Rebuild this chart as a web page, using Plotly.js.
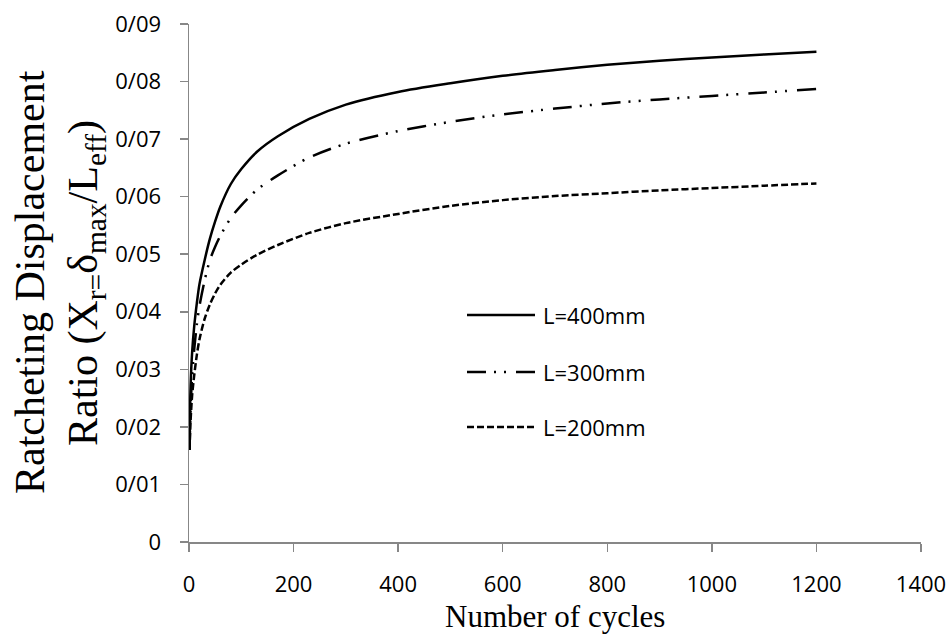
<!DOCTYPE html>
<html>
<head>
<meta charset="utf-8">
<script src="https://cdn.plot.ly/plotly-3.0.1.min.js"></script>
<style>html,body{margin:0;padding:0;background:#fff;}#chart{width:950px;height:635px;}</style>
</head>
<body>
<div id="chart"></div>
<script>
// ---- data ----
const cycles = [1, 3, 6, 10, 15, 20, 30, 40, 50, 60, 80, 100, 130, 170, 230, 300, 400, 500, 600, 700, 800, 900, 1000, 1100, 1200];
const ratioL400 = [0.016, 0.027, 0.033, 0.0375, 0.0415, 0.0448, 0.049, 0.0527, 0.0557, 0.0583, 0.0622, 0.0648, 0.0678, 0.0705, 0.0735, 0.0760, 0.0782, 0.0797, 0.0810, 0.0820, 0.0829, 0.0836, 0.0842, 0.0847, 0.0852];
const ratioL300 = [0.016, 0.023, 0.029, 0.0335, 0.0378, 0.041, 0.0455, 0.049, 0.0513, 0.0532, 0.0563, 0.0585, 0.0612, 0.0637, 0.0668, 0.0692, 0.0714, 0.0730, 0.0743, 0.0753, 0.0762, 0.0769, 0.0775, 0.0781, 0.0787];
const ratioL200 = [0.016, 0.021, 0.0255, 0.0290, 0.0325, 0.0352, 0.0388, 0.0413, 0.0432, 0.0447, 0.0468, 0.0482, 0.0499, 0.0516, 0.0537, 0.0554, 0.0570, 0.0584, 0.0594, 0.0601, 0.0606, 0.0611, 0.0615, 0.0619, 0.0623];
const seriesNames = ['L=400mm', 'L=300mm', 'L=200mm'];
const xTickVals = [0, 200, 400, 600, 800, 1000, 1200, 1400];
const yTickVals = [0, 0.01, 0.02, 0.03, 0.04, 0.05, 0.06, 0.07, 0.08, 0.09];
const yTickText = ['0', '0/01', '0/02', '0/03', '0/04', '0/05', '0/06', '0/07', '0/08', '0/09'];
const xTitle = 'Number of cycles';
const yTitleLine1 = 'Ratcheting Displacement';
const yTitleLine2 = 'Ratio (X<sub>r=</sub>δ<sub>max</sub>/L<sub>eff</sub>)';

// ---- styling ----
const dashes = ['solid', '19px,8px,2px,8px,2px,10px', '7px,3px'];
const seriesY = [ratioL400, ratioL300, ratioL200];

// plot area in pixels
const W = 950, H = 635;
const M = {l: 189, r: 29, t: 24, b: 93};
const PW = W - M.l - M.r, PH = H - M.t - M.b;
const px2x = px => (px - M.l) / PW;
const py2y = py => (H - M.b - py) / PH;

const traces = seriesY.map((ys, i) => ({
  x: cycles, y: ys, type: 'scatter', mode: 'lines', name: seriesNames[i],
  line: {color: '#000', width: 2.5, dash: dashes[i], shape: 'spline', smoothing: 0.8},
  hoverinfo: 'x+y+name', showlegend: false
}));

const tickFont = {family: '"Open Sans", "Liberation Sans", sans-serif', size: 22, color: '#000'};
const serif = '"Liberation Serif", "Times New Roman", serif';

// manual legend (long sample lines as in the reference)
const legendRowsPy = [315, 372, 427];
const shapes = [];
const annotations = [];
seriesNames.forEach((n, i) => {
  shapes.push({type: 'line', xref: 'paper', yref: 'paper',
    x0: px2x(467), x1: px2x(535), y0: py2y(legendRowsPy[i]), y1: py2y(legendRowsPy[i]),
    line: {color: '#000', width: 2.5, dash: dashes[i]}});
  annotations.push({xref: 'paper', yref: 'paper', x: px2x(541), y: py2y(legendRowsPy[i]),
    xanchor: 'left', yanchor: 'middle', showarrow: false, text: n, font: tickFont});
});
annotations.push({xref: 'paper', yref: 'paper', x: px2x(555), y: py2y(616), xanchor: 'center', yanchor: 'middle',
  showarrow: false, text: xTitle, font: {family: serif, size: 31, color: '#000'}});
annotations.push({xref: 'paper', yref: 'paper', x: px2x(30), y: py2y(282), xanchor: 'center', yanchor: 'middle',
  showarrow: false, textangle: -90, text: yTitleLine1, font: {family: serif, size: 42, color: '#000'}});
annotations.push({xref: 'paper', yref: 'paper', x: px2x(86), y: py2y(283), xanchor: 'center', yanchor: 'middle',
  showarrow: false, textangle: -90, text: yTitleLine2, font: {family: serif, size: 42, color: '#000'}});

const axisGray = '#878787';
const layout = {
  width: W, height: H, margin: M,
  paper_bgcolor: '#fff', plot_bgcolor: '#fff',
  showlegend: false,
  xaxis: {range: [0, 1400], tickvals: xTickVals, showgrid: false, zeroline: false,
    showline: true, linecolor: axisGray, linewidth: 1.5,
    ticks: 'outside', ticklen: 8, tickwidth: 1.5, tickcolor: axisGray,
    tickfont: tickFont, ticklabelstandoff: 14, fixedrange: true},
  yaxis: {range: [0, 0.09], tickvals: yTickVals, ticktext: yTickText, showgrid: false, zeroline: false,
    showline: true, linecolor: axisGray, linewidth: 1.5,
    ticks: 'outside', ticklen: 8, tickwidth: 1.5, tickcolor: axisGray,
    tickfont: tickFont, ticklabelstandoff: 14, fixedrange: true},
  shapes: shapes,
  annotations: annotations
};

Plotly.newPlot('chart', traces, layout, {displayModeBar: false, staticPlot: true});
</script>
</body>
</html>
